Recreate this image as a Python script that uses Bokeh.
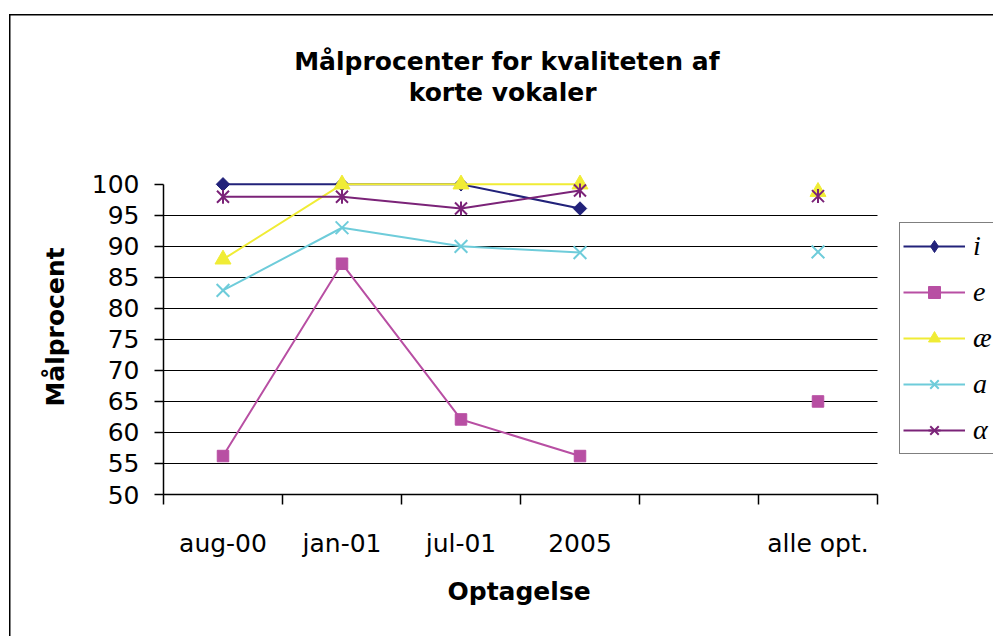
import numpy as np
from bokeh.plotting import figure
from bokeh.models import FixedTicker, Range1d, Legend, LegendItem, Title
from bokeh.embed import file_html
from bokeh.resources import INLINE

nan = float("nan")

# ---- data ----
categories = ["aug-00", "jan-01", "jul-01", "2005", "", "alle opt."]
y_ticks = [50, 55, 60, 65, 70, 75, 80, 85, 90, 95, 100]
title_lines = ["Målprocenter for kvaliteten af", "korte vokaler"]
x_title = "Optagelse"
y_title = "Målprocent"
series_names = ["i", "e", "æ", "a", "α"]
vals_i = [100, 100, 100, 96.1, nan, nan]
vals_e = [56.2, 87.2, 62.1, 56.2, nan, 65.0]
vals_ae = [87.9, 100, 100, 100, nan, 98.8]
vals_a = [82.9, 93.0, 90.0, 89.0, nan, 89.1]
vals_alpha = [98.0, 98.0, 96.1, 99.0, nan, 98.1]

n = len(categories)
x_centers = [k + 0.5 for k in range(n)]
x_bounds = [float(k) for k in range(n + 1)]

# layout: plotting area 163..877 px holds the n categories; the frame continues to
# the right edge so that the legend (drawn inside the frame) is not clipped
W, H = 993, 636
left_px, data_right_px = 163, 877
x_end = n * (W - left_px) / (data_right_px - left_px)

p = figure(width=W, height=H, output_backend="svg", toolbar_location=None,
           x_range=Range1d(0, x_end), y_range=Range1d(50, 104),
           min_border_left=left_px, min_border_right=0, min_border_top=159,
           min_border_bottom=142, title=None)
p.background_fill_color = "white"
p.border_fill_color = None
p.outline_line_color = None
# outer chart-area border (left and top edges; right/bottom fall outside the window)
p.styles = {"background": "linear-gradient(#000,#000) 9px 14px / 1.5px 1000px no-repeat, "
                          "linear-gradient(#000,#000) 9px 14px / 2000px 1.5px no-repeat, #fff"}

# axes
font = "DejaVu Sans"
p.yaxis.ticker = FixedTicker(ticks=y_ticks)
p.yaxis.bounds = (50, 100)
p.yaxis.major_tick_out = 9
p.yaxis.major_tick_in = 0
p.yaxis.minor_tick_line_color = None
p.yaxis.major_label_standoff = 15
p.yaxis.axis_label = y_title
p.yaxis.axis_label_standoff = 19

p.xaxis.ticker = FixedTicker(ticks=x_centers, minor_ticks=x_bounds)
p.xaxis.bounds = (0, n)
p.xaxis.major_label_overrides = {xc: c for xc, c in zip(x_centers, categories)}
p.xaxis.major_tick_out = 0
p.xaxis.major_tick_in = 0
p.xaxis.minor_tick_out = 10
p.xaxis.minor_tick_in = 0
p.xaxis.major_label_standoff = 24

for ax in (p.xaxis[0], p.yaxis[0]):
    ax.axis_line_color = "black"
    ax.axis_line_width = 1.5
    ax.major_tick_line_color = "black"
    ax.major_tick_line_width = 1.5
    ax.minor_tick_line_width = 1.5
    ax.major_label_text_font = font
    ax.major_label_text_font_size = "25px"
    ax.major_label_text_color = "black"
    ax.axis_label_text_font = font
    ax.axis_label_text_font_size = "25px"
    ax.axis_label_text_font_style = "bold"
    ax.axis_label_text_color = "black"
p.xaxis.minor_tick_line_color = "black"

p.xgrid.visible = False
grid = p.ygrid[0]
if "cross_bounds" in grid.properties():
    grid.ticker = FixedTicker(ticks=y_ticks[1:-1])
    grid.grid_line_color = "black"
    grid.grid_line_width = 1.2
    grid.cross_bounds = (0, n)
else:
    grid.visible = False
    gy = y_ticks[1:-1]
    p.segment(x0=[0] * len(gy), x1=[n] * len(gy), y0=gy, y1=gy,
              line_color="black", line_width=1.2, level="underlay")

# series
styles = [
    (vals_i, "#22227A", dict(marker="square", angle=np.pi / 4, size=9.5)),
    (vals_e, "#B84FA3", dict(marker="square", size=11.5)),
    (vals_ae, "#F0EC35", dict(marker="triangle", size=16)),
    (vals_a, "#6ECCDA", dict(marker="x", size=18, line_width=2)),
    (vals_alpha, "#7B2378", dict(marker="x", size=17, line_width=2)),
]
items = []
for name, (vals, col, mk) in zip(series_names, styles):
    rl = p.line(x_centers, vals, line_color=col, line_width=2)
    rs = p.scatter(x_centers, vals, color=col, **mk)
    rends = [rl, rs]
    if name == "i":
        # legend-only symbol: an upright diamond (the plotted one is a rotated square)
        rd = p.scatter([nan], [nan], marker="diamond", size=15, color=col)
        rends = [rl, rd]
    if name == "α":
        rv = p.scatter(x_centers, vals, marker="dash", angle=np.pi / 2, size=14,
                       line_color=col, line_width=2)
        rends.append(rv)
    items.append(LegendItem(label=name, renderers=rends))

legend = Legend(items=items, location=(899 - left_px, 40), orientation="vertical",
                border_line_color="black", border_line_width=1.5,
                background_fill_color="white", background_fill_alpha=1,
                padding=3, spacing=6, glyph_height=30, label_height=40,
                glyph_width=62, label_standoff=8, label_width=40, margin=0,
                label_text_font="Liberation Serif", label_text_font_style="italic",
                label_text_font_size="28px", label_text_color="black")
p.add_layout(legend, "center")

# title: spacer panel next to the frame, then the two lines
p.add_layout(Title(text=" ", text_font_size="10px", standoff=40), "above")
for txt, off in zip(reversed(title_lines), [245.2, 130.7]):
    p.add_layout(Title(text=txt, align="left", offset=off, standoff=0,
                       text_font=font, text_font_size="25px", text_font_style="bold",
                       text_color="black"), "above")

# x-axis title, centred under the categories
p.add_layout(Title(text=x_title, align="left", offset=284, standoff=30,
                   vertical_align="middle", text_font=font, text_font_size="25px",
                   text_font_style="bold", text_color="black"), "below")

open("out.html", "w").write(file_html(p, INLINE))
